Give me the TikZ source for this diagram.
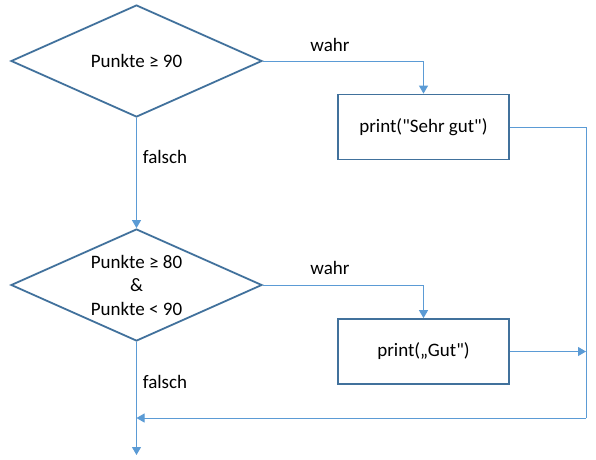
\documentclass[tikz,border=0pt]{standalone}
\usepackage{fontspec}
\setmainfont{Carlito}[Ligatures=TeXOff]
\usetikzlibrary{shapes.geometric,arrows.meta}
\definecolor{border}{HTML}{41719C}
\definecolor{conn}{HTML}{5B9BD5}
\begin{document}
\begin{tikzpicture}[x=1pt,y=-1pt,
  every node/.style={font=\fontsize{19}{23.5}\selectfont},
  decision/.style={diamond,draw=border,line width=1.8pt,minimum width=251pt,minimum height=112pt,inner sep=0pt},
  action/.style={rectangle,draw=border,line width=1.8pt,minimum width=171pt,minimum height=65pt,inner sep=0pt,align=center},
  conn/.style={draw=conn,line width=1pt,-{Triangle[length=8pt,width=9pt]}},
  plain/.style={draw=conn,line width=1pt},
  lbl/.style={inner sep=0pt,align=center}]
\useasboundingbox (0,0) rectangle (596,459);
\node[decision,label={[lbl]center:Punkte ≥ 90}] (d1) at (136.5,61) {};
\node[decision,label={[lbl]center:{Punkte ≥ 80\\\&\\Punkte < 90}}] (d2) at (136.5,285) {};
\node[action] (b1) at (423.5,127) {print("Sehr gut")};
\node[action] (b2) at (423.5,351.5) {print(„Gut")};
\coordinate (c1) at (586,127);
\coordinate (c2) at (586,418);
\coordinate (c3) at (136.5,418);
\coordinate (endp) at (136.5,455);
\draw[conn] (d1.east) -| (b1.north);
\draw[conn] (d2.east) -| (b2.north);
\draw[conn] (d1.south) -- (d2.north);
\draw[conn] (d2.south) -- (endp);
\draw[plain] (b1.east) -- (c1) -- (c2);
\draw[conn] (b2.east) -- (b2.east -| c1);
\draw[conn] (c2) -- (c3);
\node[lbl] (w1) at (330,45) {wahr};
\node[lbl] (w2) at (330,268) {wahr};
\node[lbl] (f1) at (165,157) {falsch};
\node[lbl] (f2) at (165,382) {falsch};
\end{tikzpicture}
\end{document}
